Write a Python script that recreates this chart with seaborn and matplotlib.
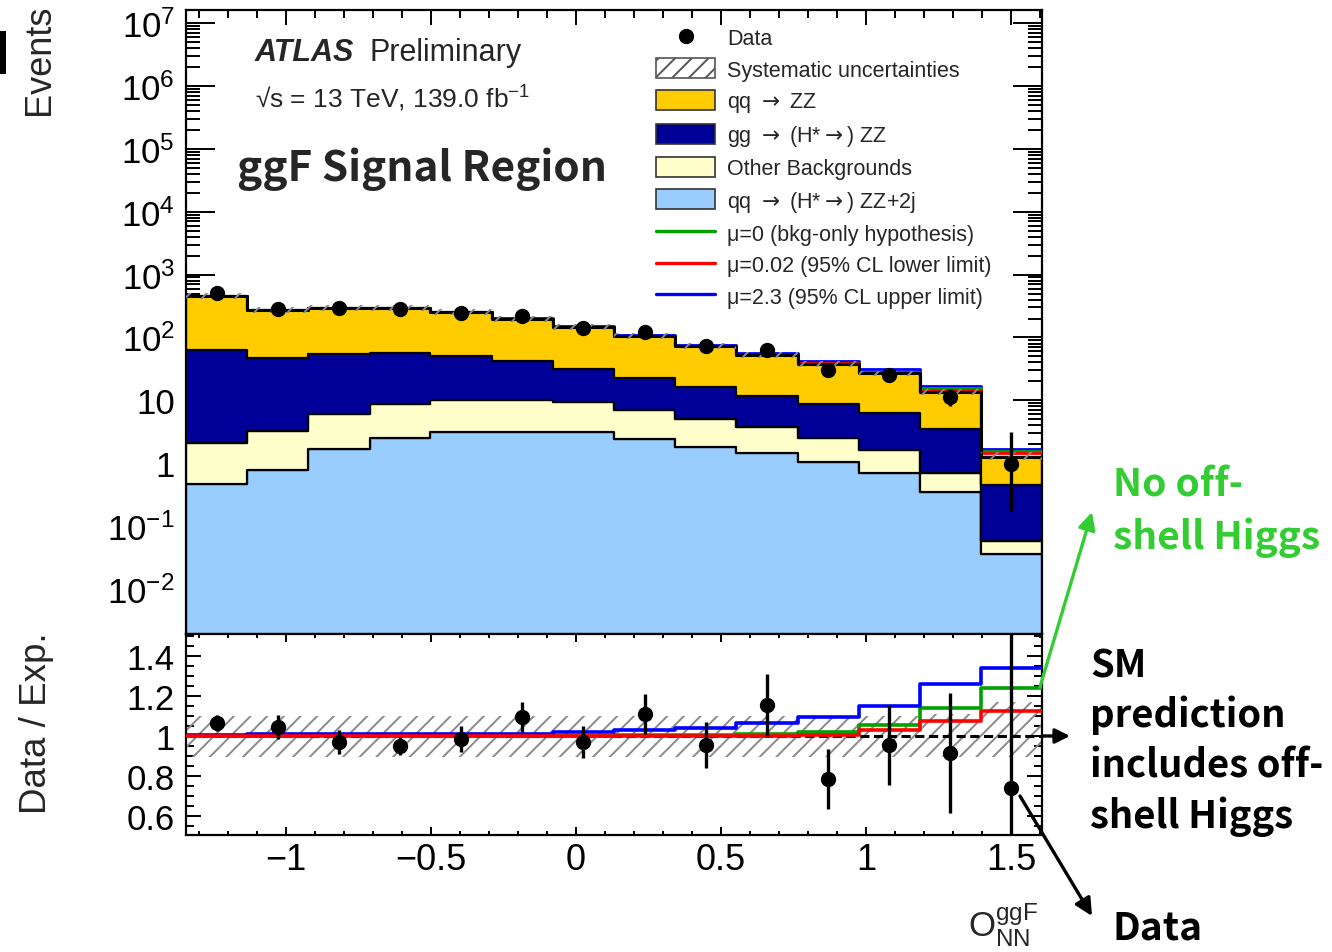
import numpy as np
import pandas as pd
import matplotlib
matplotlib.use("Agg")
import matplotlib.pyplot as plt
import seaborn as sns
from matplotlib.patches import Patch, Rectangle
from matplotlib.lines import Line2D
from matplotlib.ticker import FixedLocator, FuncFormatter, MultipleLocator, NullFormatter

# ---------------- data ----------------
bin_edges = [-1.345, -1.134, -0.923, -0.712, -0.502, -0.291, -0.080, 0.131,
             0.342, 0.553, 0.764, 0.975, 1.185, 1.396, 1.607]

qq_zz = [398.7, 227.3, 239.3, 238.0, 202.5, 157.6, 114.9, 83.3, 56.7, 41.0, 29.8, 20.6, 10.1, 0.83]
gg_zz = [61.2, 43.4, 48.5, 47.1, 41.5, 32.4, 22.7, 15.6, 11.2, 7.9, 6.17, 4.75, 2.78, 0.392]
other_bkg = [1.61, 2.48, 4.50, 6.35, 6.90, 6.81, 6.30, 4.63, 3.32, 2.34, 1.47, 0.94, 0.335, 0.0213]
qq_zz2j = [0.475, 0.78, 1.67, 2.52, 3.10, 3.19, 3.10, 2.47, 1.82, 1.44, 1.03, 0.71, 0.355, 0.0367]

data_events = [505, 281, 294, 281, 249, 220, 142, 120, 72, 62.7, 30.5, 25, 11.5, 0.96]
data_err_lo = [22, 17, 17, 17, 16, 15, 12, 11, 8.5, 8, 5.5, 5, 3.4, 0.785]
data_err_hi = [22, 17, 17, 17, 16, 15, 12, 11, 8.5, 8, 5.5, 5, 3.4, 2.14]

data_ratio = [1.065, 1.045, 0.97, 0.95, 0.985, 1.095, 0.97, 1.11, 0.955, 1.155, 0.785, 0.955, 0.915, 0.74]
ratio_err_lo = [0.04, 0.06, 0.06, 0.045, 0.065, 0.075, 0.08, 0.10, 0.115, 0.155, 0.15, 0.20, 0.30, 0.5]
ratio_err_hi = [0.04, 0.06, 0.06, 0.045, 0.065, 0.075, 0.08, 0.10, 0.115, 0.155, 0.15, 0.20, 0.30, 2.0]

mu0_ratio = [1.0, 1.002, 1.003, 1.002, 1.0, 1.0, 1.0, 1.004, 1.004, 1.008, 1.022, 1.057, 1.14, 1.24]
mu002_ratio = [0.999, 0.999, 0.999, 0.999, 0.999, 0.999, 0.999, 0.999, 0.999, 1.0, 1.003, 1.03, 1.075, 1.125]
mu23_ratio = [1.005, 1.012, 1.012, 1.012, 1.012, 1.012, 1.018, 1.03, 1.04, 1.063, 1.095, 1.15, 1.26, 1.34]

syst_up = [0.10, 0.10, 0.10, 0.10, 0.10, 0.10, 0.10, 0.10, 0.10, 0.10, 0.10, 0.10, 0.11, 0.17]
syst_dn = [0.105, 0.105, 0.105, 0.105, 0.105, 0.105, 0.105, 0.105, 0.105, 0.105, 0.105, 0.105, 0.105, 0.105]

process_names = ["qq $\\rightarrow$ ZZ", "gg $\\rightarrow$ (H*$\\rightarrow$) ZZ",
                 "Other Backgrounds", "qq $\\rightarrow$ (H*$\\rightarrow$) ZZ+2j"]
process_colors = ["#ffcc00", "#000099", "#ffffcc", "#99ccff"]
line_labels = ["\u03bc=0 (bkg-only hypothesis)", "\u03bc=0.02 (95% CL lower limit)", "\u03bc=2.3 (95% CL upper limit)"]
line_colors = ["#00a000", "#ff0000", "#0000ff"]

# ---------------- style ----------------
sns.set_theme(style="ticks")
plt.rcParams["font.family"] = ["Liberation Sans", "DejaVu Sans"]
plt.rcParams["mathtext.fontset"] = "custom"
plt.rcParams["mathtext.rm"] = "Liberation Sans"
plt.rcParams["mathtext.it"] = "Liberation Sans:italic"
plt.rcParams["mathtext.bf"] = "Liberation Sans:bold"
plt.rcParams["hatch.linewidth"] = 1.4
plt.rcParams["axes.linewidth"] = 1.6

W, H = 1332, 953
fig = plt.figure(figsize=(W / 100, H / 100), dpi=100)


def fx(x):
    return x / W


def fy(y):
    return 1 - y / H


ax1 = fig.add_axes([fx(186), fy(635), fx(1042) - fx(186), fy(11) - fy(635)])
ax2 = fig.add_axes([fx(186), fy(836), fx(1042) - fx(186), fy(635) - fy(836)], sharex=ax1)

edges = np.array(bin_edges)
centers = 0.5 * (edges[:-1] + edges[1:])
nb = len(centers)

# ---------------- top panel: stacked histogram ----------------
ax1.set_yscale("log")
df = pd.DataFrame({
    "x": np.tile(centers, 4),
    "w": np.concatenate([qq_zz, gg_zz, other_bkg, qq_zz2j]),
    "process": np.repeat(process_names, nb),
})
sns.histplot(data=df, x="x", weights="w", hue="process", hue_order=process_names,
             bins=list(bin_edges), multiple="stack", element="step", fill=True,
             palette=dict(zip(process_names, process_colors)), edgecolor="black",
             linewidth=1.6, alpha=1, legend=False, ax=ax1)

total = np.array(qq_zz) + np.array(gg_zz) + np.array(other_bkg) + np.array(qq_zz2j)


def ext(v):
    v = np.asarray(v, dtype=float)
    return np.append(v, v[-1])


# mu lines in top panel (under the outline and the band)
for ratio, col in zip([mu23_ratio, mu0_ratio, mu002_ratio], [line_colors[2], line_colors[0], line_colors[1]]):
    sns.lineplot(x=edges, y=ext(total * np.array(ratio)), drawstyle="steps-post", color=col,
                 lw=2.0, ax=ax1, estimator=None, sort=False, zorder=3)
sns.lineplot(x=edges, y=ext(total), drawstyle="steps-post", color="black", lw=2.2,
             ax=ax1, estimator=None, sort=False, zorder=3.5)
# systematic band on top of stack
ax1.fill_between(edges, ext(total * (1 - np.array(syst_dn))), ext(total * (1 + np.array(syst_up))),
                 step="post", facecolor="none", edgecolor="#8a8a8a", hatch="//", linewidth=0, zorder=4)

ax1.errorbar(centers, data_events, yerr=[data_err_lo, data_err_hi], fmt="o", color="black",
             ms=10, elinewidth=2.4, capsize=0, zorder=6)

ax1.set_xlim(edges[0], edges[-1])
ax1.set_ylim(10 ** -2.715, 10 ** 7.207)
ax1.set_xlabel("")
ax1.set_ylabel("")

major_pos = [10.0 ** k for k in range(-2, 8)]
ylab_map = {-2: "$10^{-2}$", -1: "$10^{-1}$", 0: "1", 1: "10", 2: "$10^{2}$", 3: "$10^{3}$",
            4: "$10^{4}$", 5: "$10^{5}$", 6: "$10^{6}$", 7: "$10^{7}$"}
ax1.yaxis.set_major_locator(FixedLocator(major_pos))
ax1.yaxis.set_major_formatter(FuncFormatter(lambda v, p: ylab_map.get(int(round(np.log10(v))), "")))
minor_pos = [m * 10.0 ** k for k in range(-3, 8) for m in range(2, 10)]
ax1.yaxis.set_minor_locator(FixedLocator(minor_pos))
ax1.yaxis.set_minor_formatter(NullFormatter())
ax1.xaxis.set_major_locator(MultipleLocator(0.5))
ax1.xaxis.set_minor_locator(MultipleLocator(0.1))

ax1.tick_params(axis="both", which="both", direction="in", top=True, right=True,
                labelbottom=False, width=1.4, colors="black")
ax1.tick_params(axis="y", which="major", length=21, labelsize=25, pad=8)
ax1.tick_params(axis="y", which="minor", length=10)
ax1.tick_params(axis="x", which="major", length=11)
ax1.tick_params(axis="x", which="minor", length=5.5)

# ---------------- bottom panel: ratio ----------------
ax2.axhline(1.0, color="black", ls=(0, (3, 1.5)), lw=2.2, zorder=2)
ax2.fill_between(edges, ext(1 - np.array(syst_dn)), ext(1 + np.array(syst_up)), step="post",
                 facecolor="none", edgecolor="#8a8a8a", hatch="//", linewidth=0, zorder=1)
for ratio, col in zip([mu0_ratio, mu23_ratio, mu002_ratio], [line_colors[0], line_colors[2], line_colors[1]]):
    sns.lineplot(x=edges, y=ext(ratio), drawstyle="steps-post", color=col, lw=2.6,
                 ax=ax2, estimator=None, sort=False, zorder=3)
ax2.errorbar(centers, data_ratio, yerr=[ratio_err_lo, ratio_err_hi], fmt="o", color="black",
             ms=10, elinewidth=2.4, capsize=0, zorder=6)

ax2.set_ylim(0.505, 1.51)
ax2.set_xlim(edges[0], edges[-1])
ax2.set_xlabel("")
ax2.set_ylabel("")
ax2.yaxis.set_major_locator(FixedLocator([0.6, 0.8, 1.0, 1.2, 1.4]))
ax2.yaxis.set_major_formatter(FuncFormatter(lambda v, p: {0.6: "0.6", 0.8: "0.8", 1.0: "1", 1.2: "1.2", 1.4: "1.4"}.get(round(v, 1), "")))
ax2.yaxis.set_minor_locator(MultipleLocator(0.05))
ax2.xaxis.set_major_locator(FixedLocator([-1.0, -0.5, 0.0, 0.5, 1.0, 1.5]))
ax2.xaxis.set_major_formatter(FuncFormatter(lambda v, p: {-1.0: "\u22121", -0.5: "\u22120.5", 0.0: "0", 0.5: "0.5", 1.0: "1", 1.5: "1.5"}.get(round(v, 1), "")))
ax2.xaxis.set_minor_locator(MultipleLocator(0.1))
ax2.tick_params(axis="both", which="both", direction="in", top=True, right=True, width=1.4, colors="black")
ax2.tick_params(axis="y", which="major", length=11, labelsize=25, pad=8)
ax2.tick_params(axis="y", which="minor", length=5.5)
ax2.tick_params(axis="x", which="major", length=6, labelsize=26, pad=5)
ax2.tick_params(axis="x", which="minor", length=3)

for a in (ax1, ax2):
    for s in a.spines.values():
        s.set_linewidth(1.6)
        s.set_color("black")
        s.set_visible(True)
    a.set_zorder(1)

# ---------------- legend ----------------
handles = [
    Line2D([], [], marker="o", ls="none", color="black", ms=10),
    Patch(facecolor="white", edgecolor="#555555", hatch="//", lw=1.2),
] + [Patch(facecolor=c, edgecolor="#333333", lw=1.2) for c in process_colors] + [
    Line2D([], [], color=c, lw=2.4) for c in line_colors
]
labels = ["Data", "Systematic uncertainties"] + process_names + line_labels
leg = ax1.legend(handles, labels, loc="upper left", bbox_to_anchor=(fx(656), fy(28)),
                 bbox_transform=fig.transFigure, frameon=False, fontsize=15.5,
                 handlelength=2.75, handleheight=1.05, handletextpad=0.55, labelspacing=0.42,
                 borderpad=0, borderaxespad=0)
for t in leg.get_texts():
    t.set_math_fontfamily("dejavusans")

# ---------------- texts ----------------
fig.text(fx(255), fy(61), "ATLAS", fontsize=22, fontweight="bold", fontstyle="italic", va="baseline")
fig.text(fx(369), fy(61), "Preliminary", fontsize=22, va="baseline")
fig.text(fx(255), fy(108), "\u221as = 13 TeV, 139.0 fb$^{-1}$", fontsize=19, va="baseline")
cjk = ["Noto Sans CJK SC", "DejaVu Sans"]
fig.text(fx(237), fy(181), "ggF Signal Region", fontsize=30.5, fontweight="bold", family=cjk, va="baseline")

fig.text(fx(40), fy(5), "Events", rotation=90, fontsize=26, ha="center", va="top")
fig.text(fx(37), fy(632), "Data / Exp.", rotation=90, fontsize=26.5, ha="center", va="top")
fig.text(fx(1038), fy(937), "O$_{\\rm NN}^{\\rm ggF}$", fontsize=25, ha="right", va="baseline")

fig.add_artist(Rectangle((0, fy(75)), fx(6), fy(32) - fy(75), transform=fig.transFigure,
                         facecolor="black", edgecolor="none"))

green_txt = "#33cc33"
for txt, yb in [("No off-", 497), ("shell Higgs", 549)]:
    fig.text(fx(1113), fy(yb), txt, fontsize=28, fontweight="bold", family=cjk, color=green_txt, va="baseline")
for txt, yb in [("SM", 677), ("prediction", 727), ("includes off-", 778), ("shell Higgs", 828)]:
    fig.text(fx(1090), fy(yb), txt, fontsize=27.5, fontweight="bold", family=cjk, color="black", va="baseline")
fig.text(fx(1113), fy(940), "Data", fontsize=28, fontweight="bold", family=cjk, color="black", va="baseline")

arrow_kw = dict(xycoords="figure fraction", textcoords="figure fraction", annotation_clip=False)
fig.add_artist(matplotlib.text.Annotation("", xy=(fx(1092), fy(513)), xytext=(fx(1040), fy(688)),
               arrowprops=dict(arrowstyle="-|>", color=green_txt, lw=2.4, mutation_scale=26,
                               shrinkA=0, shrinkB=0), **arrow_kw))
fig.add_artist(matplotlib.text.Annotation("", xy=(fx(1070), fy(737)), xytext=(fx(1042), fy(737)),
               arrowprops=dict(arrowstyle="-|>", color="black", lw=2.4, mutation_scale=22,
                               shrinkA=0, shrinkB=0), **arrow_kw))
fig.add_artist(matplotlib.text.Annotation("", xy=(fx(1092), fy(917)), xytext=(fx(1020), fy(797)),
               arrowprops=dict(arrowstyle="-|>", color="black", lw=2.4, mutation_scale=26,
                               shrinkA=0, shrinkB=0), **arrow_kw))

fig.savefig("out.png", dpi=100)
